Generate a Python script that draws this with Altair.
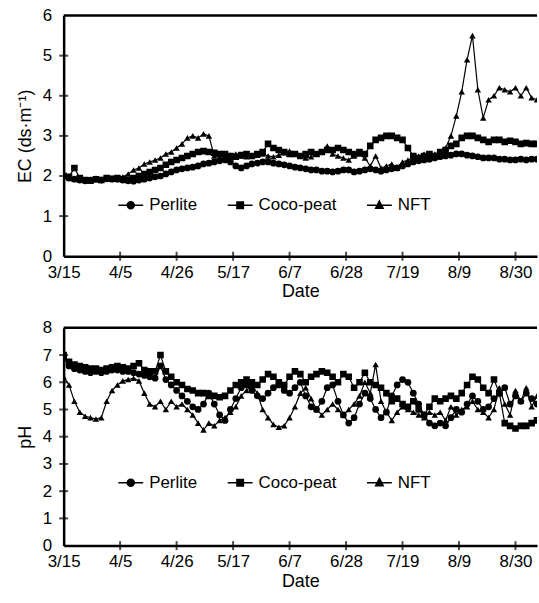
import altair as alt
import pandas as pd

# ---------------- data ----------------
series_names = ["Perlite", "Coco-peat", "NFT"]
year = 2023
start_date = "2023-03-15"
end_date = "2023-09-07"
step_days = 2
n_obs = 89
tick_labels = ["3/15", "4/5", "4/26", "5/17", "6/7", "6/28", "7/19", "8/9", "8/30"]
ec_ticks = [0, 1, 2, 3, 4, 5, 6]
ph_ticks = [0, 1, 2, 3, 4, 5, 6, 7, 8]

ec_perlite = [2.00, 1.95, 1.92, 1.90, 1.88, 1.90, 1.92, 1.90, 1.93, 1.92,
              1.92, 1.90, 1.88, 1.87, 1.90, 1.92, 1.95, 1.98, 2.00, 2.05,
              2.10, 2.15, 2.18, 2.20, 2.22, 2.25, 2.30, 2.32, 2.35, 2.38,
              2.40, 2.35, 2.25, 2.20, 2.25, 2.30, 2.32, 2.35, 2.35, 2.32,
              2.30, 2.28, 2.25, 2.22, 2.20, 2.18, 2.15, 2.15, 2.12, 2.12,
              2.10, 2.12, 2.15, 2.15, 2.10, 2.12, 2.15, 2.18, 2.15, 2.12,
              2.15, 2.18, 2.20, 2.25, 2.30, 2.35, 2.38, 2.40, 2.42, 2.45,
              2.48, 2.50, 2.52, 2.55, 2.55, 2.52, 2.50, 2.48, 2.45, 2.45,
              2.45, 2.42, 2.42, 2.40, 2.40, 2.42, 2.40, 2.42, 2.42]
ec_coco = [2.00, 1.98, 2.20, 1.95, 1.90, 1.88, 1.92, 1.90, 1.95, 1.93,
           1.95, 1.92, 1.90, 1.95, 2.00, 2.05, 2.10, 2.15, 2.20, 2.28,
           2.35, 2.40, 2.45, 2.50, 2.55, 2.60, 2.62, 2.60, 2.58, 2.55,
           2.55, 2.50, 2.48, 2.52, 2.55, 2.50, 2.55, 2.60, 2.80, 2.70,
           2.65, 2.60, 2.55, 2.55, 2.50, 2.55, 2.60, 2.55, 2.60, 2.65,
           2.65, 2.70, 2.65, 2.60, 2.55, 2.60, 2.55, 2.75, 2.90, 2.95,
           3.00, 3.00, 2.95, 2.90, 2.70, 2.50, 2.45, 2.50, 2.55, 2.50,
           2.60, 2.65, 2.75, 2.80, 2.95, 3.00, 3.00, 2.95, 2.90, 2.85,
           2.90, 2.90, 2.85, 2.88, 2.85, 2.80, 2.82, 2.80, 2.80]
ec_nft = [2.00, 1.95, 1.92, 1.90, 1.90, 1.92, 1.93, 1.92, 1.95, 1.95,
          1.95, 1.98, 2.05, 2.15, 2.20, 2.30, 2.35, 2.40, 2.45, 2.55,
          2.60, 2.70, 2.80, 2.95, 3.00, 2.95, 3.05, 3.00, 2.50, 2.48,
          2.50, 2.52, 2.55, 2.50, 2.48, 2.50, 2.52, 2.55, 2.50, 2.48,
          2.52, 2.58, 2.62, 2.55, 2.50, 2.45, 2.48, 2.55, 2.60, 2.75,
          2.55, 2.50, 2.45, 2.40, 2.50, 2.55, 2.45, 2.25, 2.50, 2.20,
          2.25, 2.30, 2.20, 2.35, 2.40, 2.45, 2.50, 2.55, 2.50, 2.55,
          2.60, 2.70, 3.00, 3.50, 4.10, 4.90, 5.50, 4.15, 3.45, 3.90,
          4.00, 4.20, 4.15, 4.10, 4.20, 4.00, 4.20, 3.95, 3.90]

ph_perlite = [6.90, 6.60, 6.50, 6.45, 6.40, 6.35, 6.40, 6.35, 6.40, 6.45,
              6.45, 6.40, 6.40, 6.35, 6.30, 6.25, 6.20, 6.15, 6.60, 6.10,
              5.90, 5.70, 5.50, 5.30, 5.10, 5.00, 5.20, 5.60, 5.20, 4.80,
              4.60, 5.00, 5.40, 5.80, 5.90, 5.70, 5.50, 5.40, 5.60, 5.80,
              5.90, 5.70, 5.60, 5.80, 6.00, 5.50, 5.10, 5.00, 5.30, 5.80,
              5.90, 5.30, 4.80, 4.50, 4.70, 5.20, 5.60, 5.40, 5.00, 4.70,
              4.90, 5.50, 5.90, 6.10, 6.00, 5.60, 5.20, 4.80, 4.50, 4.40,
              4.50, 4.40, 4.70, 5.00, 4.90, 5.20, 5.50, 5.30, 5.00, 5.10,
              5.40, 5.60, 5.80, 5.20, 5.50, 5.30, 5.60, 5.40, 5.20]
ph_coco = [7.00, 6.75, 6.65, 6.60, 6.55, 6.50, 6.50, 6.45, 6.50, 6.55,
           6.60, 6.55, 6.50, 6.60, 6.70, 6.45, 6.40, 6.40, 7.00, 6.40,
           6.20, 6.00, 5.90, 5.75, 5.70, 5.60, 5.60, 5.50, 5.50, 5.45,
           5.50, 5.70, 5.90, 6.00, 6.10, 6.00, 5.90, 6.10, 6.30, 6.20,
           6.00, 5.90, 6.20, 6.40, 6.30, 6.00, 6.20, 6.30, 6.40, 6.35,
           6.20, 6.00, 6.30, 6.20, 5.80, 6.00, 6.35, 6.00, 5.90, 5.80,
           5.60, 5.30, 5.40, 5.20, 5.10, 5.30, 5.00, 4.80, 5.10, 5.40,
           5.30, 5.40, 5.50, 5.40, 5.60, 5.90, 6.20, 6.10, 5.80, 5.60,
           6.10, 5.60, 4.50, 4.40, 4.30, 4.40, 4.40, 4.50, 4.60]
ph_nft = [6.20, 5.90, 5.30, 4.90, 4.75, 4.70, 4.65, 4.70, 5.30, 5.70,
          5.90, 6.05, 6.10, 6.15, 6.05, 5.60, 5.20, 5.10, 5.30, 5.00,
          5.30, 5.10, 5.20, 5.00, 4.80, 4.50, 4.25, 4.50, 4.40, 4.60,
          4.70, 4.90, 5.10, 5.50, 5.70, 5.90, 5.60, 5.00, 4.70, 4.45,
          4.35, 4.40, 4.70, 5.10, 5.60, 5.80, 5.40, 5.00, 4.80, 5.00,
          5.20, 5.00, 4.80, 5.00, 5.20, 5.50, 6.00, 5.60, 6.65, 5.30,
          4.90, 4.60, 4.90, 5.10, 5.00, 4.90, 4.80, 4.70, 4.90, 4.80,
          4.90, 4.60, 5.10, 4.80, 5.00, 5.10, 5.30, 5.00, 4.90, 4.70,
          5.00, 5.80, 5.20, 4.80, 5.70, 5.30, 5.80, 5.10, 5.50]

ec_values = {"Perlite": ec_perlite, "Coco-peat": ec_coco, "NFT": ec_nft}
ph_values = {"Perlite": ph_perlite, "Coco-peat": ph_coco, "NFT": ph_nft}

dates = pd.date_range(start_date, periods=n_obs, freq=f"{step_days}D").strftime("%Y-%m-%d").tolist()

# ---------------- styling ----------------
FONT = "Liberation Sans"
W = 476
H_TOP = 242
H_BOT = 219

marker_shapes = ["circle", "square", "triangle-up"]


def ring(r):
    return f"M{r},0A{r},{r},0,1,1,-{r},0A{r},{r},0,1,1,{r},0Z"


def box(r):
    return f"M-{r},-{r}L{r},-{r}L{r},{r}L-{r},{r}Z"


def tri(r):
    return f"M0,-{r*1.15:.3f}L{r:.3f},{r*0.8:.3f}L-{r:.3f},{r*0.8:.3f}Z"


legend_paths = [
    "M-1,0L1,0" + "".join(ring(r) for r in [0.28, 0.19, 0.1]),
    "M-1,0L1,0" + "".join(box(r) for r in [0.26, 0.17, 0.08]),
    "M-1,0L1,0" + "".join(tri(r) for r in [0.3, 0.2, 0.1]),
]


def to_iso(s, y=year):
    m, d = s.split("/")
    return f"{y}-{int(m):02d}-{int(d):02d}"


def to_dt(s, y=year):
    m, d = s.split("/")
    return alt.DateTime(year=y, month=int(m), date=int(d), utc=True)


tick_dts = [to_dt(t) for t in tick_labels]
sy, sm, sd = [int(v) for v in start_date.split("-")]
ey, em, ed = [int(v) for v in end_date.split("-")]
x_domain = [alt.DateTime(year=sy, month=sm, date=sd, utc=True),
            alt.DateTime(year=ey, month=em, date=ed, utc=True)]

axis_common = dict(domain=True, domainColor="black", domainWidth=2.5,
                   ticks=False, grid=False,
                   labelFont=FONT, labelFontSize=17, labelColor="black",
                   titleFont=FONT, titleFontSize=18, titleFontWeight="normal",
                   titleColor="black")


def panel(vals, ytitle, yticks, height, legend_y):
    rows = []
    for name in series_names:
        for dt, v in zip(dates, vals[name]):
            rows.append({"date": dt, "series": name, "value": v})
    df = pd.DataFrame(rows)

    x = alt.X("date:T",
              scale=alt.Scale(type="utc", domain=x_domain),
              axis=alt.Axis(values=tick_dts,
                            labelExpr="(utcmonth(datum.value)+1) + '/' + utcdate(datum.value)",
                            labelFlush=False, labelOverlap=False,
                            title="Date", labelPadding=8, titlePadding=3,
                            **axis_common))
    y = alt.Y("value:Q",
              scale=alt.Scale(domain=[yticks[0], yticks[-1]], nice=False),
              axis=alt.Axis(values=yticks, title=ytitle, labelPadding=12,
                            titlePadding=8, **axis_common))

    base = alt.Chart(df)
    lines = base.mark_line(color="black", strokeWidth=1.2, clip=True).encode(
        x=x, y=y, detail="series:N")
    points = base.mark_point(filled=True, color="black", opacity=1, clip=True).encode(
        x=x, y=y,
        shape=alt.Shape("series:N",
                        scale=alt.Scale(domain=series_names, range=marker_shapes),
                        legend=None),
        size=alt.Size("series:N",
                      scale=alt.Scale(domain=series_names, range=[46, 42, 56]),
                      legend=None))
    legend_layer = base.transform_filter("false").mark_point(
        filled=False, color="black", strokeWidth=1.5, opacity=1).encode(
        x=x, y=y,
        shape=alt.Shape("series:N",
                        scale=alt.Scale(domain=series_names, range=legend_paths),
                        legend=alt.Legend(orient="none", legendX=54, legendY=legend_y,
                                          direction="horizontal", title=None,
                                          labelFont=FONT, labelFontSize=17,
                                          labelColor="black", symbolSize=625,
                                          symbolStrokeWidth=1.5,
                                          symbolStrokeColor="black",
                                          symbolOpacity=1,
                                          columnPadding=27, labelOffset=5)))
    # inward tick marks at the axis tick values
    ytick_layer = alt.Chart(pd.DataFrame({"value": yticks[1:-1]})).mark_tick(
        orient="horizontal", color="black", thickness=2, size=9).encode(
        y=y, x=alt.value(0))
    xtick_layer = alt.Chart(pd.DataFrame({"date": [to_iso(t) for t in tick_labels[1:]]})).mark_tick(
        orient="vertical", color="black", thickness=2, size=9).encode(
        x=x, y=alt.value(height))
    top_rule = alt.Chart(pd.DataFrame({"k": [0]})).mark_rule(
        color="black", strokeWidth=2.5).encode(
        x=alt.value(0), x2=alt.value(W), y=alt.value(0))

    return alt.layer(lines, points, legend_layer, ytick_layer, xtick_layer, top_rule).resolve_scale(
        shape="independent", size="independent").properties(width=W, height=height)


top = panel(ec_values, "EC (ds·m⁻¹)", ec_ticks, H_TOP, 177)
bottom = panel(ph_values, "pH", ph_ticks, H_BOT, 142)

chart = alt.vconcat(top, bottom, spacing=18).resolve_scale(
    shape="independent", size="independent").resolve_legend(
    shape="independent", size="independent").properties(
    padding={"left": 16, "top": 5, "right": 0, "bottom": 0},
    background="white"
).configure_view(strokeWidth=0)

chart.save("out.html", embed_options={"renderer": "svg", "actions": False})
